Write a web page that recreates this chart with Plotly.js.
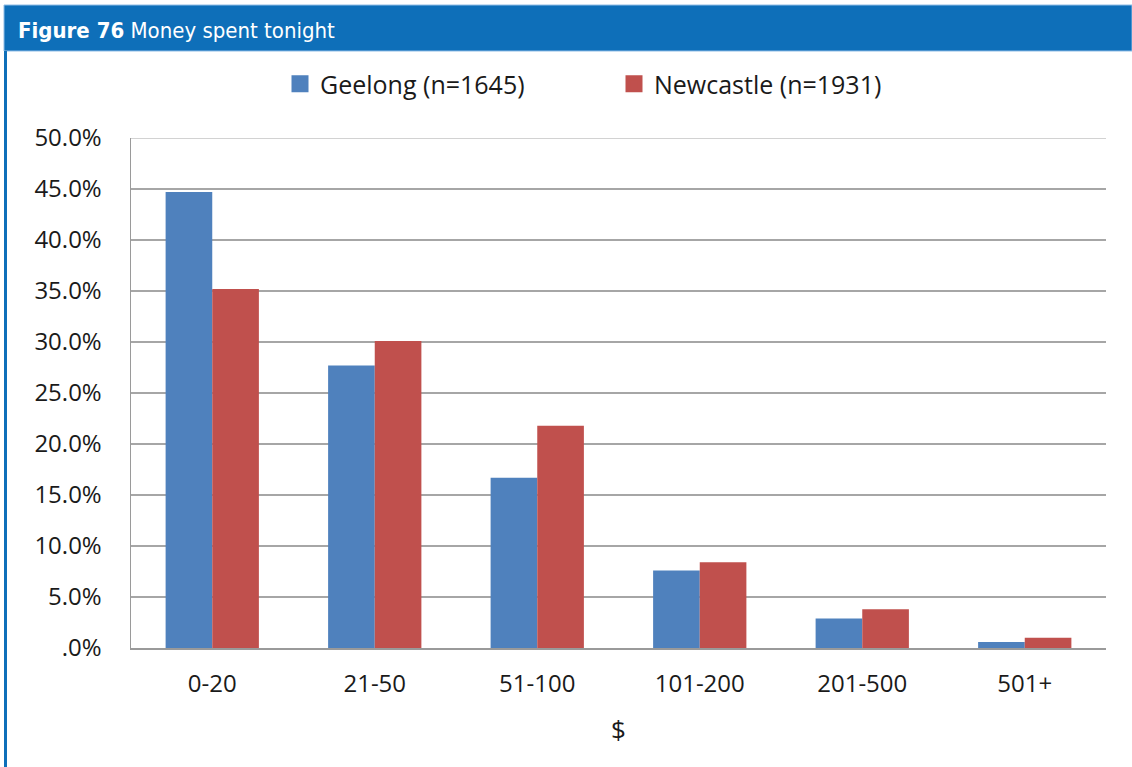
<!DOCTYPE html>
<html>
<head>
<meta charset="utf-8">
<script src="https://cdn.plot.ly/plotly-3.0.1.min.js"></script>
<style>
html,body{margin:0;padding:0;background:#fff;}
#chart{width:1132px;height:767px;}
</style>
</head>
<body>
<div id="chart"></div>
<script>
// Data
var categories = ["0-20", "21-50", "51-100", "101-200", "201-500", "501+"];
var geelongName = "Geelong (n=1645)";
var newcastleName = "Newcastle (n=1931)";
var geelong = [44.7, 27.7, 16.7, 7.6, 2.9, 0.6];
var newcastle = [35.2, 30.1, 21.8, 8.4, 3.8, 1.0];
var yTickVals = [0, 5, 10, 15, 20, 25, 30, 35, 40, 45, 50];
var yTickText = [".0%", "5.0%", "10.0%", "15.0%", "20.0%", "25.0%", "30.0%", "35.0%", "40.0%", "45.0%", "50.0%"];
var xTitle = "$";
var figTitleBold = "Figure 76";
var figTitleRest = "Money spent tonight";

// pixel helpers for paper coordinates
var L = 131, R = 26, T = 138, B = 119, W = 1132, H = 767;
var pw = W - L - R, ph = H - T - B;
function px(x){ return (x - L) / pw; }
function py(y){ return (H - B - y) / ph; }

var mainFont = "'Open Sans', 'Noto Sans', sans-serif";
var blue = "#4F81BD", red = "#C0504D";
var barW = 0.287;

var traces = [
  {type: "bar", name: geelongName, x: categories, y: geelong,
   width: barW, offset: -barW, showlegend: false,
   marker: {color: blue}, hoverinfo: "none"},
  {type: "bar", name: newcastleName, x: categories, y: newcastle,
   width: barW, offset: 0, showlegend: false,
   marker: {color: red}, hoverinfo: "none"},
  // legend-only entries (larger swatches, like the reference)
  {type: "bar", name: geelongName, x: [categories[0]], y: [null],
   marker: {color: blue, line: {color: blue, width: 5}}, hoverinfo: "none"},
  {type: "bar", name: newcastleName, x: [categories[0]], y: [null],
   marker: {color: red, line: {color: red, width: 5}}, hoverinfo: "none"}
];

var layout = {
  width: W, height: H,
  margin: {l: L, r: R, t: T, b: B, pad: 0},
  paper_bgcolor: "#ffffff",
  plot_bgcolor: "#ffffff",
  barmode: "overlay",
  font: {family: mainFont, size: 24, color: "#1a1a1a"},
  showlegend: true,
  legend: {
    orientation: "h",
    x: px(280), xanchor: "left",
    y: py(84), yanchor: "middle",
    font: {family: mainFont, size: 25, color: "#1a1a1a"},
    entrywidth: 289, entrywidthmode: "pixels",
    itemwidth: 30,
    traceorder: "normal",
    bgcolor: "rgba(0,0,0,0)"
  },
  xaxis: {
    type: "category",
    showgrid: false,
    showline: true, linecolor: "#9a9a9a", linewidth: 1.5,
    ticks: "",
    ticklabelstandoff: 14,
    tickfont: {family: mainFont, size: 24, color: "#1a1a1a"},
    title: {text: xTitle, font: {family: mainFont, size: 26, color: "#1a1a1a"}, standoff: 22},
    fixedrange: true
  },
  yaxis: {
    range: [0, 50],
    tickvals: yTickVals,
    ticktext: yTickText,
    showgrid: true, gridcolor: "#a6a6a6", gridwidth: 1.2,
    showline: true, linecolor: "#9a9a9a", linewidth: 1.5,
    zeroline: false,
    ticks: "",
    ticklabelstandoff: 23,
    tickfont: {family: mainFont, size: 24, color: "#1a1a1a"},
    fixedrange: true
  },
  shapes: [
    {type: "line", xref: "paper", yref: "y",
     x0: 0, x1: 1, y0: yTickVals[yTickVals.length - 1], y1: yTickVals[yTickVals.length - 1],
     line: {color: "#a6a6a6", width: 1.2}, layer: "below"},
    {type: "rect", xref: "paper", yref: "paper",
     x0: px(4), x1: px(1132), y0: py(51), y1: py(5),
     fillcolor: "#0E6FB9", line: {color: "#8fbde6", width: 1}, layer: "above"},
    {type: "line", xref: "paper", yref: "paper",
     x0: px(5.5), x1: px(5.5), y0: py(51), y1: py(767),
     line: {color: "#0E6FB9", width: 3}}
  ],
  annotations: [
    {xref: "paper", yref: "paper", x: px(16), y: py(30),
     xanchor: "left", yanchor: "middle", showarrow: false,
     text: "<b>" + figTitleBold + "</b> " + figTitleRest,
     font: {family: "'Liberation Sans Narrow', 'DejaVu Sans Condensed', sans-serif", size: 22, color: "#ffffff"}}
  ]
};

Plotly.newPlot("chart", traces, layout, {displayModeBar: false, staticPlot: true});
</script>
</body>
</html>
